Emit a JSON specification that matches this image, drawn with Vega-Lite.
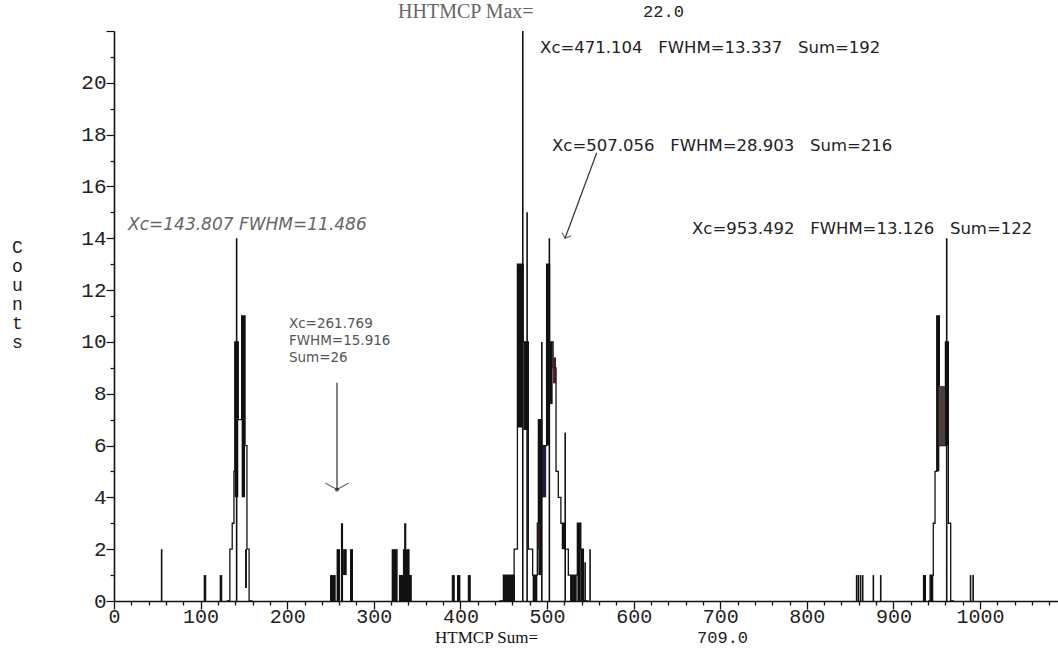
{
  "$schema": "https://vega.github.io/schema/vega-lite/v6.json",
  "width": 944,
  "height": 570,
  "autosize": {"type": "none"},
  "padding": {"left": 114, "top": 31, "right": 0, "bottom": 48},
  "background": "white",
  "config": {"view": {"stroke": null}},
  "encoding": {
    "x": {
      "field": "x", "type": "quantitative",
      "scale": {"domain": [0, 1090], "nice": false, "zero": false},
      "axis": {
        "title": null, "grid": false, "format": "d",
        "values": [0,20,40,60,80,100,120,140,160,180,200,220,240,260,280,300,320,340,360,380,400,420,440,460,480,500,520,540,560,580,600,620,640,660,680,700,720,740,760,780,800,820,840,860,880,900,920,940,960,980,1000,1020,1040,1060,1080],
        "labelExpr": "datum.value % 100 === 0 ? datum.label : ''",
        "tickSize": {"condition": {"test": "datum.value % 100 === 0", "value": 8}, "value": 4},
        "tickColor": "#111", "tickWidth": 1.3,
        "domainColor": "#111", "domainWidth": 1.6,
        "labelFont": "Liberation Mono", "labelFontSize": 20, "labelColor": "#222",
        "labelPadding": -3, "labelFlush": false, "labelOverlap": false
      }
    },
    "y": {
      "field": "y", "type": "quantitative",
      "scale": {"domain": [0, 22], "nice": false, "zero": false},
      "axis": {
        "grid": false, "format": "d",
        "values": [0,0.5,1,1.5,2,2.5,3,3.5,4,4.5,5,5.5,6,6.5,7,7.5,8,8.5,9,9.5,10,10.5,11,11.5,12,12.5,13,13.5,14,14.5,15,15.5,16,16.5,17,17.5,18,18.5,19,19.5,20,20.5,21,21.5,22],
        "labelExpr": "datum.value % 2 === 0 && datum.value <= 20 ? datum.label : ''",
        "tickSize": {"condition": {"test": "datum.value % 2 === 0", "value": 8}, "value": 4},
        "tickColor": "#111", "tickWidth": 1.2,
        "domainColor": "#111", "domainWidth": 1.6,
        "labelFont": "Liberation Mono", "labelFontSize": 21, "labelColor": "#222",
        "labelPadding": 0, "labelOverlap": false,
        "title": ["C", "o", "u", "n", "t", "s"],
        "titleAngle": 0, "titleFont": "Liberation Mono", "titleFontSize": 18,
        "titleFontWeight": "normal", "titleColor": "#222",
        "titleX": -97, "titleY": 216, "titleLineHeight": 19,
        "titleBaseline": "middle", "titleAlign": "center"
      }
    }
  },
  "layer": [
    {
      "data": {"values": [
        {"grp": "a", "x": 130, "y": 0}, {"grp": "a", "x": 133.8, "y": 2}, {"grp": "a", "x": 136.5, "y": 3}, {"grp": "a", "x": 138.5, "y": 5}, {"grp": "a", "x": 139.5, "y": 10}, {"grp": "a", "x": 143.5, "y": 7}, {"grp": "a", "x": 147.4, "y": 11}, {"grp": "a", "x": 151.3, "y": 6}, {"grp": "a", "x": 153.5, "y": 2}, {"grp": "a", "x": 156, "y": 0}, {"grp": "a", "x": 160, "y": 0},
        {"grp": "b", "x": 445, "y": 0}, {"grp": "b", "x": 449.6, "y": 1}, {"grp": "b", "x": 462, "y": 2}, {"grp": "b", "x": 465.8, "y": 13}, {"grp": "b", "x": 472.5, "y": 10}, {"grp": "b", "x": 478.4, "y": 2}, {"grp": "b", "x": 483.4, "y": 1}, {"grp": "b", "x": 488.8, "y": 3}, {"grp": "b", "x": 490, "y": 7}, {"grp": "b", "x": 494, "y": 6}, {"grp": "b", "x": 499.5, "y": 13}, {"grp": "b", "x": 503, "y": 10}, {"grp": "b", "x": 507, "y": 9}, {"grp": "b", "x": 510.4, "y": 5}, {"grp": "b", "x": 513, "y": 4}, {"grp": "b", "x": 516, "y": 3}, {"grp": "b", "x": 521, "y": 2}, {"grp": "b", "x": 524.6, "y": 1}, {"grp": "b", "x": 535, "y": 3}, {"grp": "b", "x": 539, "y": 2}, {"grp": "b", "x": 542, "y": 0}, {"grp": "b", "x": 548, "y": 0},
        {"grp": "c", "x": 940, "y": 0}, {"grp": "c", "x": 942.3, "y": 1}, {"grp": "c", "x": 946, "y": 3}, {"grp": "c", "x": 948, "y": 5}, {"grp": "c", "x": 950, "y": 11}, {"grp": "c", "x": 953, "y": 6}, {"grp": "c", "x": 960, "y": 10}, {"grp": "c", "x": 963.4, "y": 3}, {"grp": "c", "x": 966.1, "y": 0}, {"grp": "c", "x": 970, "y": 0}
      ]},
      "mark": {"type": "line", "interpolate": "step-after", "color": "#111", "strokeWidth": 1.3},
      "encoding": {"detail": {"field": "grp"}}
    },
    {
      "data": {"values": [
        {"x": 103.5, "x2": 106.5, "y": 0, "y2": 1, "tone": "k"},
        {"x": 122, "x2": 125, "y": 0, "y2": 1, "tone": "k"},
        {"x": 139.3, "x2": 143.5, "y": 4, "y2": 10, "tone": "k"},
        {"x": 147.4, "x2": 151.3, "y": 4, "y2": 11, "tone": "k"},
        {"x": 151.3, "x2": 153.5, "y": 0.5, "y2": 2, "tone": "k"},
        {"x": 249.4, "x2": 256, "y": 0, "y2": 1, "tone": "k"},
        {"x": 257, "x2": 261, "y": 0, "y2": 2, "tone": "k"},
        {"x": 262, "x2": 264.5, "y": 0, "y2": 3, "tone": "k"},
        {"x": 264.5, "x2": 268.7, "y": 1, "y2": 2, "tone": "k"},
        {"x": 272.5, "x2": 276, "y": 0, "y2": 2, "tone": "k"},
        {"x": 320.6, "x2": 326.3, "y": 0, "y2": 2, "tone": "k"},
        {"x": 329, "x2": 343.9, "y": 0, "y2": 1, "tone": "k"},
        {"x": 333.6, "x2": 341.3, "y": 1, "y2": 2, "tone": "k"},
        {"x": 335, "x2": 337.5, "y": 2, "y2": 3, "tone": "k"},
        {"x": 390, "x2": 393.5, "y": 0, "y2": 1, "tone": "k"},
        {"x": 396, "x2": 400, "y": 0, "y2": 1, "tone": "k"},
        {"x": 408.5, "x2": 412, "y": 0, "y2": 1, "tone": "k"},
        {"x": 449.6, "x2": 463, "y": 0, "y2": 1, "tone": "k"},
        {"x": 465.8, "x2": 471.5, "y": 6.7, "y2": 13, "tone": "k"},
        {"x": 472.8, "x2": 478.4, "y": 6.6, "y2": 10, "tone": "k"},
        {"x": 483.4, "x2": 488.8, "y": 0, "y2": 1, "tone": "k"},
        {"x": 490, "x2": 494, "y": 1, "y2": 7, "tone": "k"},
        {"x": 489.5, "x2": 491.5, "y": 2, "y2": 3, "tone": "r"},
        {"x": 494, "x2": 499, "y": 4, "y2": 6, "tone": "b"},
        {"x": 499.5, "x2": 503, "y": 6, "y2": 13, "tone": "k"},
        {"x": 503, "x2": 506.5, "y": 7.6, "y2": 10, "tone": "k"},
        {"x": 507, "x2": 510.4, "y": 8.4, "y2": 9.4, "tone": "r"},
        {"x": 517, "x2": 521, "y": 2, "y2": 3, "tone": "k"},
        {"x": 526.6, "x2": 534.3, "y": 0, "y2": 1, "tone": "k"},
        {"x": 535, "x2": 539, "y": 0, "y2": 3, "tone": "k"},
        {"x": 539, "x2": 542, "y": 0, "y2": 2, "tone": "k"},
        {"x": 934, "x2": 937.6, "y": 0, "y2": 1, "tone": "k"},
        {"x": 942.3, "x2": 946, "y": 0, "y2": 1, "tone": "k"},
        {"x": 950, "x2": 953, "y": 5, "y2": 11, "tone": "k"},
        {"x": 952, "x2": 960, "y": 6, "y2": 8.3, "tone": "g"},
        {"x": 960, "x2": 963.4, "y": 6, "y2": 10, "tone": "k"}
      ]},
      "mark": {"type": "rect"},
      "encoding": {
        "x2": {"field": "x2"},
        "y2": {"field": "y2"},
        "color": {"field": "tone", "type": "nominal", "legend": null,
          "scale": {"domain": ["k", "r", "b", "g"], "range": ["#111111", "#4a1a24", "#1c1c44", "#4f3c3c"]}}
      }
    },
    {
      "data": {"values": [
        {"x": 55, "y": 2}, {"x": 141.6, "y": 14}, {"x": 326.6, "y": 2},
        {"x": 472, "y": 22}, {"x": 477, "y": 15}, {"x": 494, "y": 10}, {"x": 502.7, "y": 14},
        {"x": 521, "y": 6.5}, {"x": 544, "y": 1.5}, {"x": 549.7, "y": 2},
        {"x": 961.5, "y": 14},
        {"x": 857.5, "y": 1}, {"x": 859.5, "y": 1}, {"x": 862, "y": 1}, {"x": 864.5, "y": 1},
        {"x": 876.8, "y": 1}, {"x": 885.3, "y": 1}, {"x": 936, "y": 1}, {"x": 989, "y": 1}, {"x": 992, "y": 1}
      ]},
      "mark": {"type": "rule", "color": "#111", "strokeWidth": 1.6},
      "encoding": {"y2": {"datum": 0}}
    },
    {
      "data": {"values": [
        {"x": 257.5, "y": 8.42, "x2": 257.5, "y2": 4.3},
        {"x": 557.4, "y": 17.3, "x2": 520.8, "y2": 14.0}
      ]},
      "mark": {"type": "rule", "color": "#333", "strokeWidth": 1.2},
      "encoding": {"x2": {"field": "x2"}, "y2": {"field": "y2"}}
    },
    {
      "data": {"values": [{"x": 257.5, "y": 4.3}]},
      "mark": {"type": "point", "shape": "M-1,-0.57L0,0L1,-0.57", "filled": false, "stroke": "#333", "strokeWidth": 1.2, "size": 540},
      "encoding": {}
    },
    {
      "data": {"values": [{"x": 257.5, "y": 4.3}]},
      "mark": {"type": "point", "shape": "circle", "filled": true, "color": "#222", "size": 18},
      "encoding": {}
    },
    {
      "data": {"values": [{"x": 520.8, "y": 14.0}]},
      "mark": {"type": "point", "shape": "M-1,-0.9L0,0L1,-0.9", "filled": false, "stroke": "#333", "strokeWidth": 1.2, "size": 90, "angle": 20},
      "encoding": {}
    },
    {
      "data": {"values": [{"x": 16.2, "y": 14.5, "label": "Xc=143.807\u00a0FWHM=11.486"}]},
      "mark": {"type": "text", "align": "left", "baseline": "middle", "font": "DejaVu Sans", "fontSize": 17, "fontStyle": "italic", "color": "#666"},
      "encoding": {"text": {"field": "label"}}
    },
    {
      "data": {"values": [
        {"x": 202, "y": 10.69, "label": "Xc=261.769"},
        {"x": 202, "y": 10.04, "label": "FWHM=15.916"},
        {"x": 202, "y": 9.38, "label": "Sum=26"}
      ]},
      "mark": {"type": "text", "align": "left", "baseline": "middle", "font": "DejaVu Sans", "fontSize": 13.5, "color": "#555"},
      "encoding": {"text": {"field": "label"}}
    },
    {
      "data": {"values": [
        {"x": 492, "y": 21.35, "label": "Xc=471.104\u00a0\u00a0\u00a0FWHM=13.337\u00a0\u00a0\u00a0Sum=192"},
        {"x": 505.8, "y": 17.57, "label": "Xc=507.056\u00a0\u00a0\u00a0FWHM=28.903\u00a0\u00a0\u00a0Sum=216"},
        {"x": 667.4, "y": 14.36, "label": "Xc=953.492\u00a0\u00a0\u00a0FWHM=13.126\u00a0\u00a0\u00a0Sum=122"}
      ]},
      "mark": {"type": "text", "align": "left", "baseline": "middle", "font": "DejaVu Sans", "fontSize": 16.5, "color": "#222"},
      "encoding": {"text": {"field": "label"}}
    },
    {
      "data": {"values": [{"x": 328, "y": 22.74, "label": "HHTMCP Max="}]},
      "mark": {"type": "text", "align": "left", "baseline": "middle", "font": "Liberation Serif", "fontSize": 20, "color": "#666"},
      "encoding": {"text": {"field": "label"}}
    },
    {
      "data": {"values": [{"x": 370.7, "y": -1.43, "label": "HTMCP Sum="}]},
      "mark": {"type": "text", "align": "left", "baseline": "middle", "font": "Liberation Serif", "fontSize": 17, "color": "#111"},
      "encoding": {"text": {"field": "label"}}
    },
    {
      "data": {"values": [
        {"x": 610.9, "y": 22.74, "label": "22.0"},
        {"x": 673.2, "y": -1.43, "label": "709.0"}
      ]},
      "mark": {"type": "text", "align": "left", "baseline": "middle", "font": "Liberation Mono", "fontSize": 17, "color": "#222"},
      "encoding": {"text": {"field": "label"}}
    }
  ]
}
